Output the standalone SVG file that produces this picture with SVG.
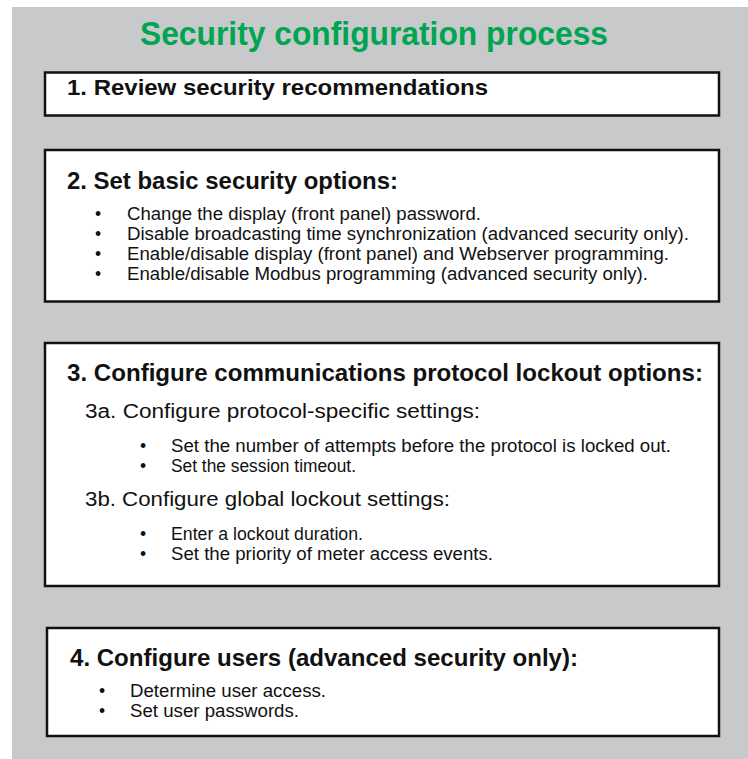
<svg xmlns="http://www.w3.org/2000/svg" width="748" height="759" viewBox="0 0 748 759">
<style>
.box{fill:#fff;stroke:#111;stroke-width:2.5}
text{font-family:"Liberation Sans",Arial,sans-serif;fill:#111}
.title{font-size:33px;font-weight:bold;fill:#00a551}
.h{font-size:24px;font-weight:bold}
.h1{font-size:22px;font-weight:bold}
.sub{font-size:20px}
.b{font-size:17.5px}
</style>
<rect x="12" y="7" width="736" height="752" fill="#c8c9cb"/>
<text class="title" x="140" y="45" textLength="468" lengthAdjust="spacingAndGlyphs">Security configuration process</text>
<g id="connectors"></g>
<g id="step1">
<rect class="box" x="45" y="72.5" width="674" height="43"/>
<text class="h1" x="67" y="95" textLength="421" lengthAdjust="spacingAndGlyphs">1. Review security recommendations</text>
</g>
<g id="step2">
<rect class="box" x="45" y="150" width="674" height="151.5"/>
<text class="h" x="67" y="189" textLength="331" lengthAdjust="spacingAndGlyphs">2. Set basic security options:</text>
<text class="b" x="95" y="220">•</text>
<text class="b" x="127" y="220" textLength="354" lengthAdjust="spacingAndGlyphs">Change the display (front panel) password.</text>
<text class="b" x="95" y="240">•</text>
<text class="b" x="127" y="240" textLength="562" lengthAdjust="spacingAndGlyphs">Disable broadcasting time synchronization (advanced security only).</text>
<text class="b" x="95" y="260">•</text>
<text class="b" x="127" y="260" textLength="542" lengthAdjust="spacingAndGlyphs">Enable/disable display (front panel) and Webserver programming.</text>
<text class="b" x="95" y="280">•</text>
<text class="b" x="127" y="280" textLength="521" lengthAdjust="spacingAndGlyphs">Enable/disable Modbus programming (advanced security only).</text>
</g>
<g id="step3">
<rect class="box" x="45" y="343" width="674" height="243"/>
<text class="h" x="67" y="381" textLength="636" lengthAdjust="spacingAndGlyphs">3. Configure communications protocol lockout options:</text>
<text class="sub" x="85" y="418" textLength="395" lengthAdjust="spacingAndGlyphs">3a. Configure protocol-specific settings:</text>
<text class="b" x="140" y="452">•</text>
<text class="b" x="171" y="452" textLength="500" lengthAdjust="spacingAndGlyphs">Set the number of attempts before the protocol is locked out.</text>
<text class="b" x="140" y="472">•</text>
<text class="b" x="171" y="472" textLength="185" lengthAdjust="spacingAndGlyphs">Set the session timeout.</text>
<text class="sub" x="85" y="506" textLength="365" lengthAdjust="spacingAndGlyphs">3b. Configure global lockout settings:</text>
<text class="b" x="140" y="540">•</text>
<text class="b" x="171" y="540" textLength="192" lengthAdjust="spacingAndGlyphs">Enter a lockout duration.</text>
<text class="b" x="140" y="560">•</text>
<text class="b" x="171" y="560" textLength="322" lengthAdjust="spacingAndGlyphs">Set the priority of meter access events.</text>
</g>
<g id="step4">
<rect class="box" x="47" y="628" width="672" height="108"/>
<text class="h" x="70" y="666" textLength="508" lengthAdjust="spacingAndGlyphs">4. Configure users (advanced security only):</text>
<text class="b" x="99" y="697">•</text>
<text class="b" x="130" y="697" textLength="196" lengthAdjust="spacingAndGlyphs">Determine user access.</text>
<text class="b" x="99" y="717">•</text>
<text class="b" x="130" y="717" textLength="169" lengthAdjust="spacingAndGlyphs">Set user passwords.</text>
</g>
</svg>
